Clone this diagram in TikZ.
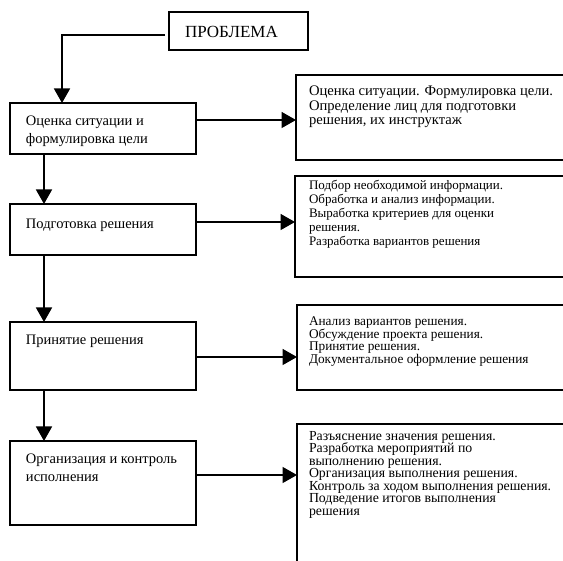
\documentclass[tikz,border=0pt]{standalone}
\usepackage{fontspec}
\setmainfont{Liberation Serif}
\usetikzlibrary{arrows.meta}
% a block of lines with a fixed baseline distance; its baseline is that of the first line
\newcommand\stacklines[1]{\vtop{\lineskiplimit=-100pt\lineskip=0pt\relax #1}}
\newcommand\rowtext[1]{\hbox{#1}}
\begin{document}
\begin{tikzpicture}[x=1pt,y=-1pt,
  box/.style={draw, line width=1.8pt, rectangle, anchor=north west,
    inner sep=0pt, outer sep=0pt},
  sidebox/.style={box, line width=2.6pt},
  txt/.style={anchor=base west, inner sep=0pt, outer sep=0pt, align=left},
  stagefont/.style={font=\fontsize{14.5}{18}\selectfont},
  arr/.style={line width=1.6pt, -{Triangle[length=14.5pt,width=16pt]}},
]
\useasboundingbox (0,0) rectangle (563,561);
\clip (0,0) rectangle (563,561);

% problem box
\node[box, minimum width=138.7pt, minimum height=38pt] (p) at (169,12.3) {};
\node[txt, font=\fontsize{17}{20}\selectfont] (pt) at (185,37.3) {ПРОБЛЕМА};

% stages of the decision process
\node[box, minimum width=186pt, minimum height=51pt] (b1) at (10,103) {};
\node[box, minimum width=186pt, minimum height=51pt] (b2) at (10,204) {};
\node[box, minimum width=186pt, minimum height=68pt] (b3) at (10,322) {};
\node[box, minimum width=186pt, minimum height=84pt] (b4) at (10,441) {};

\node[txt, stagefont] (b1t) at (26,126) {\stacklines{\rowtext{Оценка ситуации и}\rowtext{формулировка цели}}};
\node[txt, stagefont] (b2t) at (26,229) {Подготовка решения};
\node[txt, stagefont] (b3t) at (26,345) {Принятие решения};
\node[txt, stagefont] (b4t) at (26,463.5) {\stacklines{\rowtext{Организация и контроль}\rowtext{исполнения}}};

% what each stage includes
\node[sidebox, minimum width=279pt, minimum height=85pt] (r1) at (296,75) {};
\node[sidebox, minimum width=280pt, minimum height=101pt] (r2) at (295,176) {};
\node[sidebox, minimum width=278pt, minimum height=85pt] (r3) at (297,305) {};
\node[sidebox, minimum width=278pt, minimum height=180pt] (r4) at (297,424) {};

\node[txt, font=\fontsize{14.6}{14.5}\selectfont] (r1t) at (309,96) {\stacklines{%
  \rowtext{Оценка ситуации. Формулировка цели.}%
  \rowtext{Определение лиц для подготовки}%
  \rowtext{решения, их инструктаж}}};
\node[txt, font=\fontsize{13}{13.8}\selectfont] (r2t) at (309,190) {\stacklines{%
  \rowtext{Подбор необходимой информации.}%
  \rowtext{Обработка и анализ информации.}%
  \rowtext{Выработка критериев для оценки}%
  \rowtext{решения.}%
  \rowtext{Разработка вариантов решения}}};
\node[txt, font=\fontsize{13.3}{12.5}\selectfont] (r3t) at (309,326) {\stacklines{%
  \rowtext{Анализ вариантов решения.}%
  \rowtext{Обсуждение проекта решения.}%
  \rowtext{Принятие решения.}%
  \rowtext{Документальное оформление решения}}};
\node[txt, font=\fontsize{13.8}{12.5}\selectfont] (r4t) at (309,440.5) {\stacklines{%
  \rowtext{Разъяснение значения решения.}%
  \rowtext{Разработка мероприятий по}%
  \rowtext{выполнению решения.}%
  \rowtext{Организация выполнения решения.}%
  \rowtext{Контроль за ходом выполнения решения.}%
  \rowtext{Подведение итогов выполнения}%
  \rowtext{решения}}};

% connectors
\draw[arr] ([xshift=-4pt,yshift=-3.5pt]p.west) -| ([xshift=52pt]b1.north west);
\draw[arr] ([xshift=34pt]b1.south west) -- ([xshift=34pt]b2.north west);
\draw[arr] ([xshift=34pt]b2.south west) -- ([xshift=34pt]b3.north west);
\draw[arr] ([xshift=34pt]b3.south west) -- ([xshift=34pt]b4.north west);

\coordinate (a1) at ([yshift=-17pt]b1.north east);
\coordinate (a2) at ([yshift=-18pt]b2.north east);
\coordinate (a3) at ([yshift=-35pt]b3.north east);
\coordinate (a4) at ([yshift=-34pt]b4.north east);
\draw[arr] (a1) -- (a1 -| r1.west);
\draw[arr] (a2) -- (a2 -| r2.west);
\draw[arr] (a3) -- (a3 -| r3.west);
\draw[arr] (a4) -- (a4 -| r4.west);
\end{tikzpicture}
\end{document}
